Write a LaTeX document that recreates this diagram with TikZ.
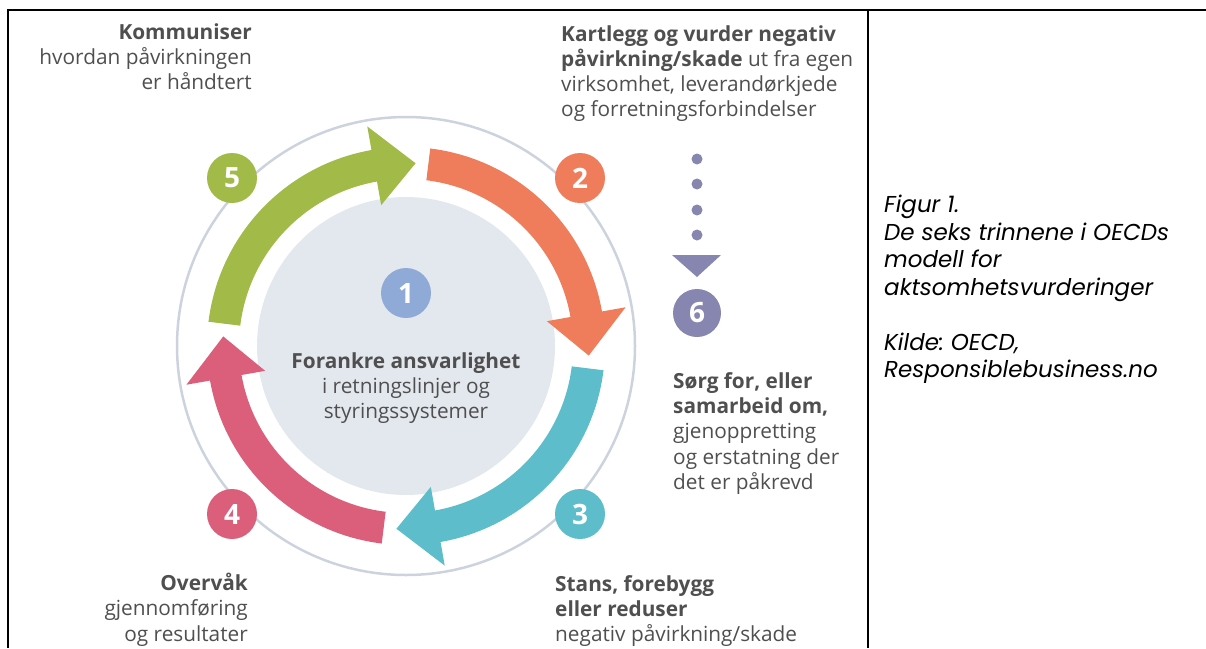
\documentclass[tikz,border=0pt]{standalone}
\usepackage{fontspec}
\setmainfont{Open Sans}
\newfontfamily\capfont{Poppins}
\usepackage{xcolor}
\definecolor{stepgreen}{HTML}{A2BA48}
\definecolor{steporange}{HTML}{EF7D5B}
\definecolor{stepteal}{HTML}{5DBDCB}
\definecolor{stepred}{HTML}{DB5E7B}
\definecolor{stepblue}{HTML}{8FAAD7}
\definecolor{steppurple}{HTML}{8686B0}
\definecolor{corefill}{HTML}{E3E8EF}
\definecolor{ringline}{HTML}{CDD3DE}
\definecolor{txtgrey}{HTML}{4F4F4F}
\frenchspacing

\begin{document}
\begin{tikzpicture}[x=1pt, y=-1pt,
    numcirc/.style={circle, minimum size=50pt, inner sep=0pt, text=white, font=\fontsize{28}{28}\selectfont\bfseries},
    steptext/.style={inner sep=0pt, text=txtgrey, font=\fontsize{20.8}{25.3}\selectfont}]
    \useasboundingbox (0,0) rectangle (1206,648);
    % frame
    \draw[line width=2pt] (7,10) -- (1206,10);
    \draw[line width=2pt] (8,10) -- (8,648);
    \draw[line width=2pt] (868,10) -- (868,648);
    % ring and core
    \draw[ringline, line width=2.5pt] (406,346) circle (229);
    \node[circle, fill=corefill, minimum size=298pt, inner sep=0pt] (core) at (406,346) {};
    % the four arrows
    \begin{scope}[shift={(406,346)}, yscale=-1]
        \foreach \s/\col in {173/stepgreen, 83/steporange, -7/stepteal, -97/stepred}
            \fill[\col] (\s:199) arc[start angle=\s, end angle=\s-73, radius=199] -- (\s-73:223)
                -- (\s-86:183) -- (\s-73:143) -- (\s-73:167)
                arc[start angle=\s-73, end angle=\s, radius=167] -- cycle;
    \end{scope}
    % numbers
    \node[numcirc, fill=stepblue] (n1) at (406,293) {1};
    \node[numcirc, fill=steporange] (n2) at (580,178) {2};
    \node[numcirc, fill=stepteal] (n3) at (580,514) {3};
    \node[numcirc, fill=stepred] (n4) at (232,514) {4};
    \node[numcirc, fill=stepgreen] (n5) at (232,178) {5};
    \node[numcirc, fill=steppurple, minimum size=48pt] (n6) at (697,313) {6};
    % dotted way down to 6
    \foreach \y in {159,184,210,235}
        \fill[steppurple] (697,\y) circle (5.5);
    \fill[steppurple] (672,255) -- (721,255) -- (697,277) -- cycle;
    % texts
    \node[steptext, align=center, anchor=north] (t1) at (406,352)
        {\textbf{Forankre ansvarlighet}\\i retningslinjer og\\styringssystemer};
    \node[steptext, align=left, anchor=north west] (t2) at (561,25)
        {\textbf{Kartlegg og vurder negativ}\\\textbf{påvirkning/skade} ut fra egen\\virksomhet, leverandørkjede\\og forretningsforbindelser};
    \node[steptext, align=left, anchor=north west] (t3) at (555,575)
        {\textbf{Stans, forebygg}\\\textbf{eller reduser}\\negativ påvirkning/skade};
    \node[steptext, align=right, anchor=north east] (t4) at (248,573)
        {\textbf{Overvåk}\\gjennomføring\\og resultater};
    \node[steptext, align=right, anchor=north east] (t5) at (252,23)
        {\textbf{Kommuniser}\\hvordan påvirkningen\\er håndtert};
    \node[steptext, align=left, anchor=north west] (t6) at (673,372)
        {\textbf{Sørg for, eller}\\\textbf{samarbeid om,}\\gjenoppretting\\og erstatning der\\det er påkrevd};
    % caption
    \node[inner sep=0pt, align=left, anchor=north west, font=\capfont\itshape\fontsize{23}{27.5}\selectfont] (cap) at (884,195)
        {Figur 1.\\De seks trinnene i OECDs\\modell for\\aktsomhetsvurderinger\\[27.5pt]Kilde: OECD,\\Responsiblebusiness.no};
\end{tikzpicture}
\end{document}
